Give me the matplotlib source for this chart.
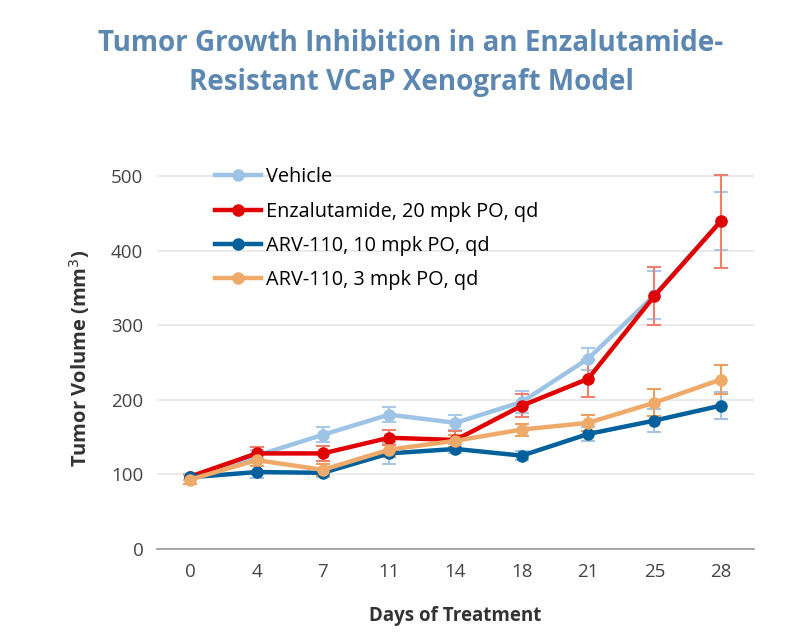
import matplotlib
matplotlib.use("Agg")
import matplotlib.pyplot as plt
import numpy as np

plt.rcParams['font.family'] = ['Open Sans', 'DejaVu Sans']

days = ["0", "4", "7", "11", "14", "18", "21", "25", "28"]

vehicle = [96, 125, 153, 180, 169, 197, 255, 340, 440]
vehicle_err = [4, 8, 10, 10, 10, 15, 15, 32, 39]

enza = [97, 128, 128, 149, 146, 192, 228, 339, 439]
enza_err = [4, 8, 10, 10, 12, 15, 25, 39, 63]

arv10 = [96, 103, 102, 128, 134, 125, 154, 172, 192]
arv10_err = [4, 8, 6, 14, 6, 6, 9, 15, 18]

arv3 = [93, 119, 106, 133, 145, 160, 169, 196, 227]
arv3_err = [6, 8, 8, 10, 8, 8, 11, 18, 19]

series = [
    ("Vehicle", vehicle, vehicle_err, "#9dc3e6", "#a9c9e9"),
    ("Enzalutamide, 20 mpk PO, qd", enza, enza_err, "#e00000", "#f0806e"),
    ("ARV-110, 10 mpk PO, qd", arv10, arv10_err, "#00609c", "#a6c4e2"),
    ("ARV-110, 3 mpk PO, qd", arv3, arv3_err, "#efaa6a", "#eba060"),
]

fig = plt.figure(figsize=(7.86, 6.36), dpi=100)
ax = fig.add_axes([0.2, 0.137, 0.759, 0.598])

x = np.arange(len(days))
for i, (name, vals, err, col, ecol) in enumerate(series):
    ax.errorbar(x, vals, yerr=err, fmt="none", ecolor=ecol, elinewidth=1.5,
                capsize=5, capthick=1.5, zorder=2 + i)
    ax.plot(x, vals, color=col, lw=3.2, marker="o", ms=8, label=name, zorder=6 + i)

ax.set_xlim(-0.5, len(days) - 0.5)
ax.set_ylim(0, 510)
ax.set_xticks(x)
ax.set_xticklabels(days)
ax.set_yticks([0, 100, 200, 300, 400, 500])
ax.tick_params(length=0, labelsize=13.5, labelcolor="#444444", pad=10)
ax.yaxis.grid(True, color="#e6e6e6", lw=1.2)
ax.set_axisbelow(True)
for s in ["top", "right", "left"]:
    ax.spines[s].set_visible(False)
ax.spines["bottom"].set_color("#999999")
ax.spines["bottom"].set_linewidth(1.2)

ax.set_xlabel("Days of Treatment", fontsize=13.5, fontweight="bold", color="#333333", labelpad=18)
ax.set_ylabel("Tumor Volume (mm$^3$)", fontsize=14.5, fontweight="bold", color="#333333", labelpad=14)

ax.legend(loc="upper left", bbox_to_anchor=(0.067, 1.05), frameon=False, fontsize=14.3,
          handlelength=2.3, labelspacing=0.72, handletextpad=0.25)

fig.suptitle("Tumor Growth Inhibition in an Enzalutamide-\nResistant VCaP Xenograft Model",
             x=0.523, y=0.955, fontsize=20, fontweight="bold", color="#5b87b0", linespacing=1.45)

fig.savefig("out.png", dpi=100)
